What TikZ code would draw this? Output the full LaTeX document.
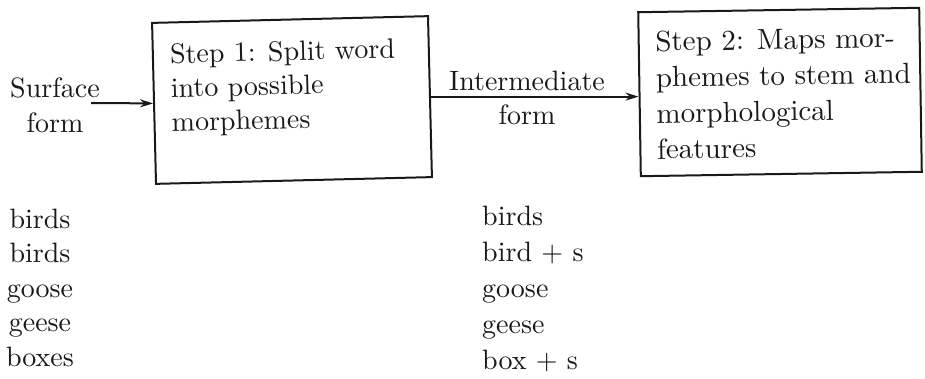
\documentclass[tikz,border=0pt]{standalone}
\usepackage{fontspec}
% use the 10pt design at every size: it is darker and wider than the display cuts
\setmainfont{lmroman10-regular}[Extension=.otf]
\usetikzlibrary{arrows.meta}
\begin{document}
\begin{tikzpicture}[x=1pt,y=-1pt,
  procbox/.style={draw=black!90, line width=2pt, rectangle, inner sep=0pt},
  lbl/.style={inner sep=0pt, text=black!90, font=\fontsize{28}{34}\selectfont},
  flow/.style={draw=black!90, line width=2pt, -{Stealth[length=13pt,width=8pt]}}]
\useasboundingbox (0,0) rectangle (925,378);

% Step 1 box, slightly tilted
\begin{scope}[rotate around={1.4:(292,100)}, transform shape]
  \node[procbox, minimum width=276pt, minimum height=161pt] (box1) at (292,100) {};
  \node[lbl, anchor=north west, align=left] (step1) at (171,40.5)
    {Step 1: Split word\\into possible\\morphemes};
\end{scope}

% Step 2 box, slightly tilted
\begin{scope}[rotate around={0.9:(780,92)}, transform shape]
  \node[procbox, minimum width=281pt, minimum height=164pt] (box2) at (780,92) {};
  \node[lbl, anchor=north west, align=left, font=\fontsize{29}{36}\selectfont]
    (step2) at (656,28.5)
    {Step 2: Maps mor-\\phemes to stem and\\morphological\\features};
\end{scope}

% input and intermediate labels
\node[lbl, anchor=north, align=center, font=\fontsize{28}{35}\selectfont]
  (surf) at (55,77.5) {Surface\\form};
\node[lbl, anchor=north, align=center, font=\fontsize{28}{34}\selectfont]
  (inter) at (527,70.6) {Intermediate\\form};

% connectors
\coordinate (sfout) at (91,103);
\draw[flow] (sfout) -- (box1.west);
\draw[flow] (box1.east) -- (box2.west |- box1.east);

% example word lists
\node[lbl, anchor=north, align=center, font=\fontsize{28}{34.5}\selectfont]
  (surfwords) at (40,208.6) {birds\\birds\\goose\\geese\\boxes};
\node[lbl, anchor=north west, align=left, font=\fontsize{28}{36}\selectfont]
  (interwords) at (482,205.6) {birds\\bird + s\\goose\\geese\\box + s};
\end{tikzpicture}
\end{document}
